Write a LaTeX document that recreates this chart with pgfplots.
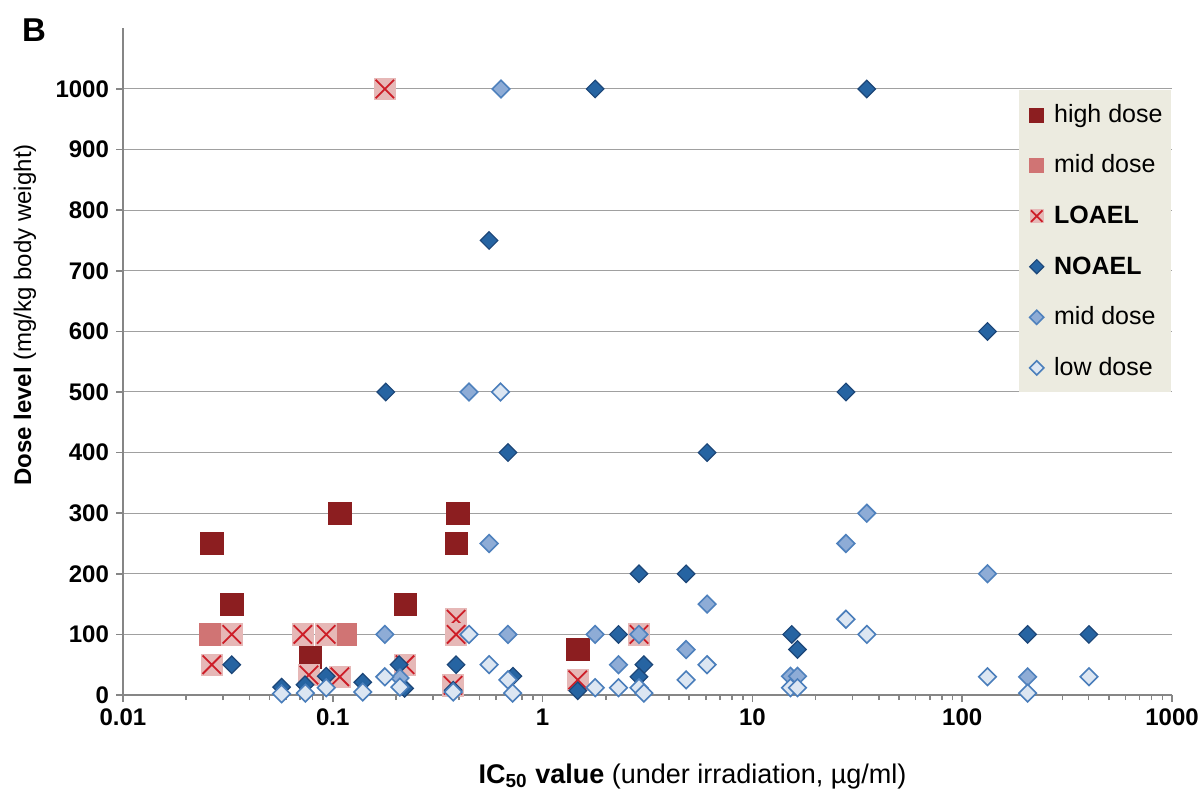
\documentclass[border=0pt]{standalone}
\usepackage{pgfplots}
\pgfplotsset{compat=1.18}
\usepackage{fontspec}
\setmainfont{Liberation Sans}
\definecolor{hd}{RGB}{140,30,32}
\definecolor{mdr}{RGB}{208,116,116}
\definecolor{lfill}{RGB}{230,184,183}
\definecolor{lx}{RGB}{205,30,40}
\definecolor{nfill}{RGB}{38,100,162}
\definecolor{nedge}{RGB}{28,70,120}
\definecolor{mfill}{RGB}{142,172,214}
\definecolor{medge}{RGB}{79,129,189}
\definecolor{lwfill}{RGB}{220,230,242}
\definecolor{lwedge}{RGB}{74,126,187}
\definecolor{legbg}{RGB}{236,235,224}
\definecolor{axgray}{RGB}{134,134,134}
\definecolor{gridgray}{RGB}{160,160,160}
\pgfdeclareplotmark{loael}{%
  \pgfpathrectangle{\pgfqpoint{-\pgfplotmarksize}{-\pgfplotmarksize}}{\pgfqpoint{2\pgfplotmarksize}{2\pgfplotmarksize}}%
  \pgfsetfillcolor{lfill}\pgfusepath{fill}%
  \pgfsetstrokecolor{lx}%
  \pgfpathmoveto{\pgfqpoint{-.82\pgfplotmarksize}{-.82\pgfplotmarksize}}%
  \pgfpathlineto{\pgfqpoint{.82\pgfplotmarksize}{.82\pgfplotmarksize}}%
  \pgfpathmoveto{\pgfqpoint{-.82\pgfplotmarksize}{.82\pgfplotmarksize}}%
  \pgfpathlineto{\pgfqpoint{.82\pgfplotmarksize}{-.82\pgfplotmarksize}}%
  \pgfusepath{stroke}}
\pgfplotsset{
  legsq/.style={legend image code/.code={\path (0pt,0pt) (11.5pt,0pt); \draw[##1,mark size=3.5pt] plot coordinates {(6.5pt,0pt)};}},
  legdi/.style={legend image code/.code={\path (0pt,0pt) (11.5pt,0pt); \draw[##1,mark size=2.5pt] plot coordinates {(6.5pt,0pt)};}},
}
\begin{document}
\begin{tikzpicture}
\useasboundingbox (-61.5pt,-48.5pt) rectangle (540pt,347.5pt);
\begin{axis}[
  at={(0,0)}, anchor=south west,
  scale only axis, width=524.5pt, height=333.3pt,
  xmode=log, xmin=0.01, xmax=1000, ymin=0, ymax=1100,
  axis x line=bottom, axis y line=left,
  axis line style={axgray, line width=1.1pt, -},
  xtick={0.01,0.1,1,10,100,1000},
  xticklabels={0.01,0.1,1,10,100,1000},
  xminorticks=true,
  ytick={0,100,...,1000},
  ymajorgrids, major grid style={gridgray, line width=0.5pt},
  tick align=outside,
  major tick length=3.5pt, minor tick length=2.5pt,
  every tick/.style={axgray, line width=0.8pt},
  /pgf/number format/1000 sep={},
  /pgf/number format/assume math mode=true,
  tick label style={font=\fontsize{12}{14}\selectfont\bfseries},
  clip=false,
  every axis x label/.style={at={(axis description cs:0.543,-0.122)}, anchor=center, font=\fontsize{13.5}{15}\selectfont},
  every axis y label/.style={at={(axis description cs:-0.0934,0.57)}, rotate=90, anchor=center, font=\fontsize{12}{14}\selectfont},
  xlabel={\textbf{IC\textsubscript{50} value} (under irradiation, µg/ml)},
  ylabel={\textbf{Dose level} (mg/kg body weight)},
  legend style={at={(axis description cs:0.999,0.9076)}, anchor=north east,
    fill=legbg, draw=none, font=\fontsize{12.5}{14}\selectfont,
    inner xsep=2pt, inner ysep=5pt, row sep=10.8pt, column sep=1.5pt,
    cells={anchor=west, inner xsep=1pt, inner ysep=0pt, text height=9pt, text depth=2.5pt}},
  legend cell align=left,
]
\addplot[only marks, mark=square*, mark size=5.6pt, mark options={fill=hd, draw=hd, line width=0.3pt}, legsq]
coordinates {(0.0265,250) (0.033,150) (0.108,300) (0.078,62) (0.221,150) (0.395,300) (0.387,250) (1.47,75)};
\addlegendentry{high dose}
\addplot[only marks, mark=square*, mark size=5.6pt, mark options={fill=mdr, draw=mdr, line width=0.3pt}, legsq]
coordinates {(0.026,100) (0.114,100)};
\addlegendentry{mid dose}
\addplot[only marks, mark=loael, mark size=5.6pt, mark options={line width=0.9pt}, legsq]
coordinates {(0.177,1000) (0.0265,50) (0.033,100) (0.072,100) (0.093,100) (0.077,33) (0.108,30) (0.221,50) (0.387,125) (0.387,100) (0.374,16) (1.47,25) (2.88,100)};
\addlegendentry{\textbf{LOAEL}}
\addplot[only marks, mark=square*, mark size=3.1pt, mark options={rotate=45, fill=nfill, draw=nedge, line width=0.6pt}, legdi]
coordinates {(1.78,1000) (35.1,1000) (0.556,750) (132,600) (0.179,500) (27.9,500) (0.684,400) (6.08,400) (2.88,200) (4.83,200) (2.3,100) (15.4,100) (205,100) (402,100) (16.4,75) (0.033,50) (0.207,50) (0.387,50) (3.04,50) (2.88,30) (0.722,31) (0.093,31) (0.139,21) (0.0737,17) (0.057,13) (0.22,11) (0.375,8) (1.47,7)};
\addlegendentry{\textbf{NOAEL}}
\addplot[only marks, mark=square*, mark size=3.1pt, mark options={rotate=45, fill=mfill, draw=medge, line width=0.8pt}, legdi]
coordinates {(0.634,1000) (0.446,500) (0.556,250) (35.1,300) (27.9,250) (132,200) (6.08,150) (0.177,100) (0.684,100) (1.78,100) (2.88,100) (4.83,75) (2.3,50) (0.209,28) (15.2,31) (16.4,31) (205,30)};
\addlegendentry{mid dose}
\addplot[only marks, mark=square*, mark size=3.1pt, mark options={rotate=45, fill=lwfill, draw=lwedge, line width=0.8pt}, legdi]
coordinates {(0.63,500) (27.9,125) (35.1,100) (0.446,100) (0.556,50) (6.08,50) (2.3,12) (2.88,12) (3.04,3) (4.83,25) (0.684,25) (0.72,3) (0.177,30) (0.209,13) (0.093,12) (0.074,3) (0.057,2) (0.139,5) (0.375,5) (1.78,12) (15.2,12) (16.4,12) (132,30) (205,3) (402,30)};
\addlegendentry{low dose}
\node[font=\fontsize{16.5}{18}\selectfont\bfseries] at (axis description cs:-0.0848,0.9976) {B};
\end{axis}
\end{tikzpicture}
\end{document}
